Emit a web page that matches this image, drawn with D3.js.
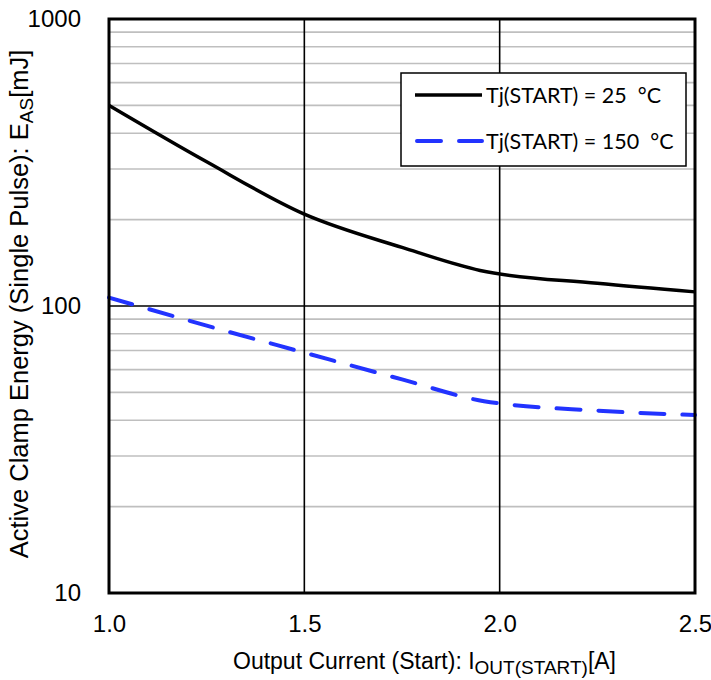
<!DOCTYPE html>
<html>
<head>
<meta charset="utf-8">
<script src="https://cdn.jsdelivr.net/npm/d3@7"></script>
<style>
  body { margin: 0; background: #fff; }
  svg { display: block; }
  text { font-family: "Liberation Sans", Arial, sans-serif; }
</style>
</head>
<body>
<svg width="711" height="680"></svg>
<script>
// data
var current25 = [1.0, 1.25, 1.5, 1.75, 1.95, 2.25, 2.5];
var energy25  = [500, 318, 209, 160, 133, 120, 112];
var current150 = [1.0, 1.25, 1.5, 1.75, 1.96, 2.25, 2.5];
var energy150  = [107, 85.4, 68.8, 55.5, 46.6, 43.2, 41.7];
var xTicks = [1.0, 1.5, 2.0, 2.5];
var yTicks = [10, 100, 1000];
var legendLabels = ["Tj(START) = 25  \u00B0C", "Tj(START) = 150  \u00B0C"];

(function() {
var svg = d3.select("svg"),
  width = +svg.attr("width"),
  height = +svg.attr("height");

var pL = 109, pR = 695, pT = 19, pB = 593;

var x = d3.scaleLinear().domain([1, 2.5]).range([pL, pR]);
var y = d3.scaleLog().domain([10, 1000]).range([pB, pT]);

// minor gridlines (gray)
var minor = [];
[10, 100].forEach(function(dec) {
  for (var k = 2; k <= 9; k++) minor.push(dec * k);
});
svg.append("g").selectAll("line")
  .data(minor)
  .enter().append("line")
    .attr("x1", pL).attr("x2", pR)
    .attr("y1", d => y(d)).attr("y2", d => y(d))
    .attr("stroke", "#bfbfbf")
    .attr("stroke-width", 1.6);

// major gridlines (black)
svg.append("line")
  .attr("x1", pL).attr("x2", pR)
  .attr("y1", y(100)).attr("y2", y(100))
  .attr("stroke", "#000").attr("stroke-width", 1.6);
svg.append("g").selectAll("line")
  .data([1.5, 2.0])
  .enter().append("line")
    .attr("x1", d => x(d)).attr("x2", d => x(d))
    .attr("y1", pT).attr("y2", pB)
    .attr("stroke", "#000").attr("stroke-width", 1.6);

// series
var line = d3.line()
  .x(d => x(d[0]))
  .y(d => y(d[1]))
  .curve(d3.curveMonotoneX);

svg.append("path")
  .datum(d3.zip(current25, energy25))
  .attr("d", line)
  .attr("fill", "none")
  .attr("stroke", "#000")
  .attr("stroke-width", 3.5);

svg.append("path")
  .datum(d3.zip(current150, energy150))
  .attr("d", line)
  .attr("fill", "none")
  .attr("stroke", "#2233ff")
  .attr("stroke-width", 4)
  .attr("stroke-linecap", "round")
  .attr("stroke-dasharray", "24,18");

// frame
svg.append("rect")
  .attr("x", pL).attr("y", pT)
  .attr("width", pR - pL).attr("height", pB - pT)
  .attr("fill", "none")
  .attr("stroke", "#000")
  .attr("stroke-width", 3);

// axes (labels only)
var yAxis = svg.append("g")
  .attr("transform", "translate(" + pL + ",0)")
  .call(d3.axisLeft(y).tickValues(yTicks).tickFormat(d3.format("d")).tickSize(0).tickPadding(28));
yAxis.select(".domain").remove();
yAxis.selectAll("text").attr("font-size", 24).attr("fill", "#000").style("font-family", "Liberation Sans, Arial, sans-serif");

var xAxis = svg.append("g")
  .attr("transform", "translate(0," + pB + ")")
  .call(d3.axisBottom(x).tickValues(xTicks).tickFormat(d3.format(".1f")).tickSize(0).tickPadding(22));
xAxis.select(".domain").remove();
xAxis.selectAll("text").attr("font-size", 24).attr("fill", "#000").style("font-family", "Liberation Sans, Arial, sans-serif");

// axis titles
var xt = svg.append("text")
  .attr("x", 233).attr("y", 669)
  .attr("font-size", 23);
xt.append("tspan").text("Output Current (Start): I");
xt.append("tspan").attr("font-size", 19).attr("dy", 5).text("OUT(START)");
xt.append("tspan").attr("dy", -5).text("[A]");

var yt = svg.append("text")
  .attr("transform", "translate(28,304) rotate(-90)")
  .attr("text-anchor", "middle")
  .attr("font-size", 25.5);
yt.append("tspan").text("Active Clamp Energy (Single Pulse): E");
yt.append("tspan").attr("font-size", 19).attr("dy", 5).text("AS");
yt.append("tspan").attr("dy", -5).text("[mJ]");

// legend
var lg = svg.append("g");
lg.append("rect")
  .attr("x", 401).attr("y", 73)
  .attr("width", 285).attr("height", 93)
  .attr("fill", "#fff")
  .attr("stroke", "#000")
  .attr("stroke-width", 1.5);

var legendStyles = [
  { color: "#000", width: 3.5, dash: null, cap: "butt" },
  { color: "#2233ff", width: 4, dash: "24,18", cap: "round" }
];
lg.selectAll("g.item")
  .data(legendLabels)
  .enter().append("g")
    .attr("class", "item")
    .attr("transform", (d, i) => "translate(0," + (95 + i * 46) + ")")
    .each(function(d, i) {
      var g = d3.select(this), st = legendStyles[i];
      g.append("line")
        .attr("x1", i ? 417 : 415).attr("x2", 482)
        .attr("stroke", st.color)
        .attr("stroke-width", st.width)
        .attr("stroke-linecap", st.cap)
        .attr("stroke-dasharray", st.dash);
      g.append("text")
        .attr("x", 486).attr("dy", "0.35em")
        .attr("font-size", 21.5)
        .style("font-family", "Lato, sans-serif")
        .style("white-space", "pre")
        .text(d);
    });
})();
</script>
</body>
</html>
